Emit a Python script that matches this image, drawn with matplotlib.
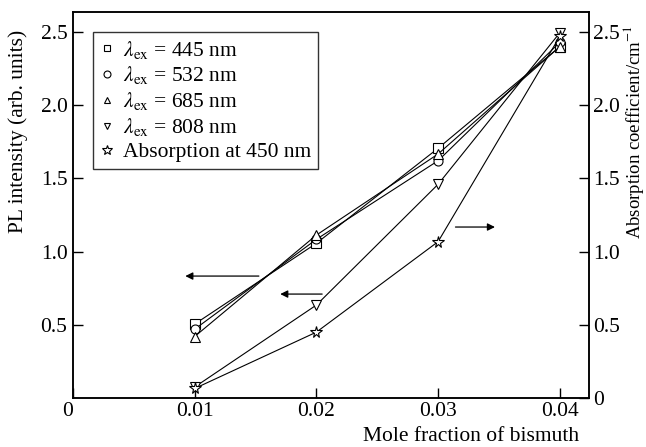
import matplotlib
matplotlib.use("Agg")
import matplotlib.pyplot as plt
from matplotlib.lines import Line2D

plt.rcParams['font.family'] = ['Liberation Serif', 'DejaVu Serif']
plt.rcParams['mathtext.fontset'] = 'stix'
FS = 15.5

# Data
x = [0.01, 0.02, 0.03, 0.04]
pl_445 = [0.505, 1.057, 1.706, 2.40]
pl_532 = [0.47, 1.084, 1.621, 2.43]
pl_685 = [0.42, 1.113, 1.667, 2.40]
pl_808 = [0.075, 0.635, 1.46, 2.495]
absorption_450 = [0.065, 0.45, 1.068, 2.47]

labels = [r'$\lambda_{\mathrm{ex}}$ = 445 nm', r'$\lambda_{\mathrm{ex}}$ = 532 nm',
          r'$\lambda_{\mathrm{ex}}$ = 685 nm', r'$\lambda_{\mathrm{ex}}$ = 808 nm',
          'Absorption at 450 nm']
markers = ['s', 'o', '^', 'v', '*']

xticks = [0, 0.01, 0.02, 0.03, 0.04]
xticklabels = ['0', '0.01', '0.02', '0.03', '0.04']
yticks_left = [0.5, 1.0, 1.5, 2.0, 2.5]
yticklabels_left = ['0.5', '1.0', '1.5', '2.0', '2.5']
yticks_right = [0, 0.5, 1.0, 1.5, 2.0, 2.5]
yticklabels_right = ['0', '0.5', '1.0', '1.5', '2.0', '2.5']

fig = plt.figure(figsize=(6.46, 4.47), dpi=100)
ax = fig.add_axes([73/646, 1-398/447, (589-73)/646, (398-12)/447])
ax2 = ax.twinx()

ylim = (0, 2.637)
xlim = (0, 0.0424)

style = dict(color='black', lw=0.8, mfc='white', mec='black', mew=0.8, clip_on=False)
handles = []
for ys, m, lab in zip([pl_445, pl_532, pl_685, pl_808], markers[:4], labels[:4]):
    ax.plot(x, ys, marker=m, ms=6.5, **style)
    handles.append(Line2D([], [], ls='none', marker=m, ms=5, mfc='white', mec='black', mew=0.8, label=lab))
ax2.plot(x, absorption_450, marker='*', ms=8.5, **style)
handles.append(Line2D([], [], ls='none', marker='*', ms=7, mfc='white', mec='black', mew=0.8, label=labels[4]))

for a in (ax, ax2):
    a.set_xlim(*xlim)
    a.set_ylim(*ylim)
    for s in a.spines.values():
        s.set_linewidth(1.1)

ax.set_xticks(xticks)
ax.set_xticklabels(xticklabels)
ax.get_xticklabels()[0].set_ha('right')
ax.set_yticks(yticks_left)
ax.set_yticklabels(yticklabels_left)
ax2.set_yticks(yticks_right)
ax2.set_yticklabels(yticklabels_right)

ax.tick_params(axis='both', direction='in', length=7, width=1, labelsize=FS, pad=4)
ax.tick_params(axis='x', pad=3)
ax2.tick_params(axis='y', direction='in', length=7, width=1, labelsize=FS, pad=3)

ax.set_xlabel('Mole fraction of bismuth', fontsize=FS)
ax.xaxis.set_label_coords(0.98, -0.075)
ax.xaxis.label.set_ha('right')
ax.set_ylabel('PL intensity (arb. units)', fontsize=FS)
ax.yaxis.set_label_coords(-0.106, 0.69)
ax.yaxis.label.set_va('center')
ax2.set_ylabel(r'Absorption coefficient/cm$^{-1}$', fontsize=13.5, rotation=90)
ax2.yaxis.set_label_coords(1.087, 0.69)
ax2.yaxis.label.set_va('center')

# Arrows
arrow_kw = dict(arrowstyle='-|>', color='black', lw=0.9, mutation_scale=11)
ax.annotate('', xy=(0.0090, 0.833), xytext=(0.0155, 0.833), arrowprops=arrow_kw)
ax.annotate('', xy=(0.0168, 0.71), xytext=(0.0207, 0.71), arrowprops=arrow_kw)
ax.annotate('', xy=(0.0349, 1.168), xytext=(0.0312, 1.168), arrowprops=arrow_kw)

leg = ax.legend(handles=handles, loc='upper left', bbox_to_anchor=(0.039, 0.948),
                frameon=True, fancybox=False, edgecolor='black', fontsize=FS,
                handlelength=0.7, handletextpad=0.4, labelspacing=0.18,
                borderpad=0.3, borderaxespad=0)
leg.get_frame().set_linewidth(1.0)
leg.set_zorder(5)

fig.savefig('out.png', dpi=100)
